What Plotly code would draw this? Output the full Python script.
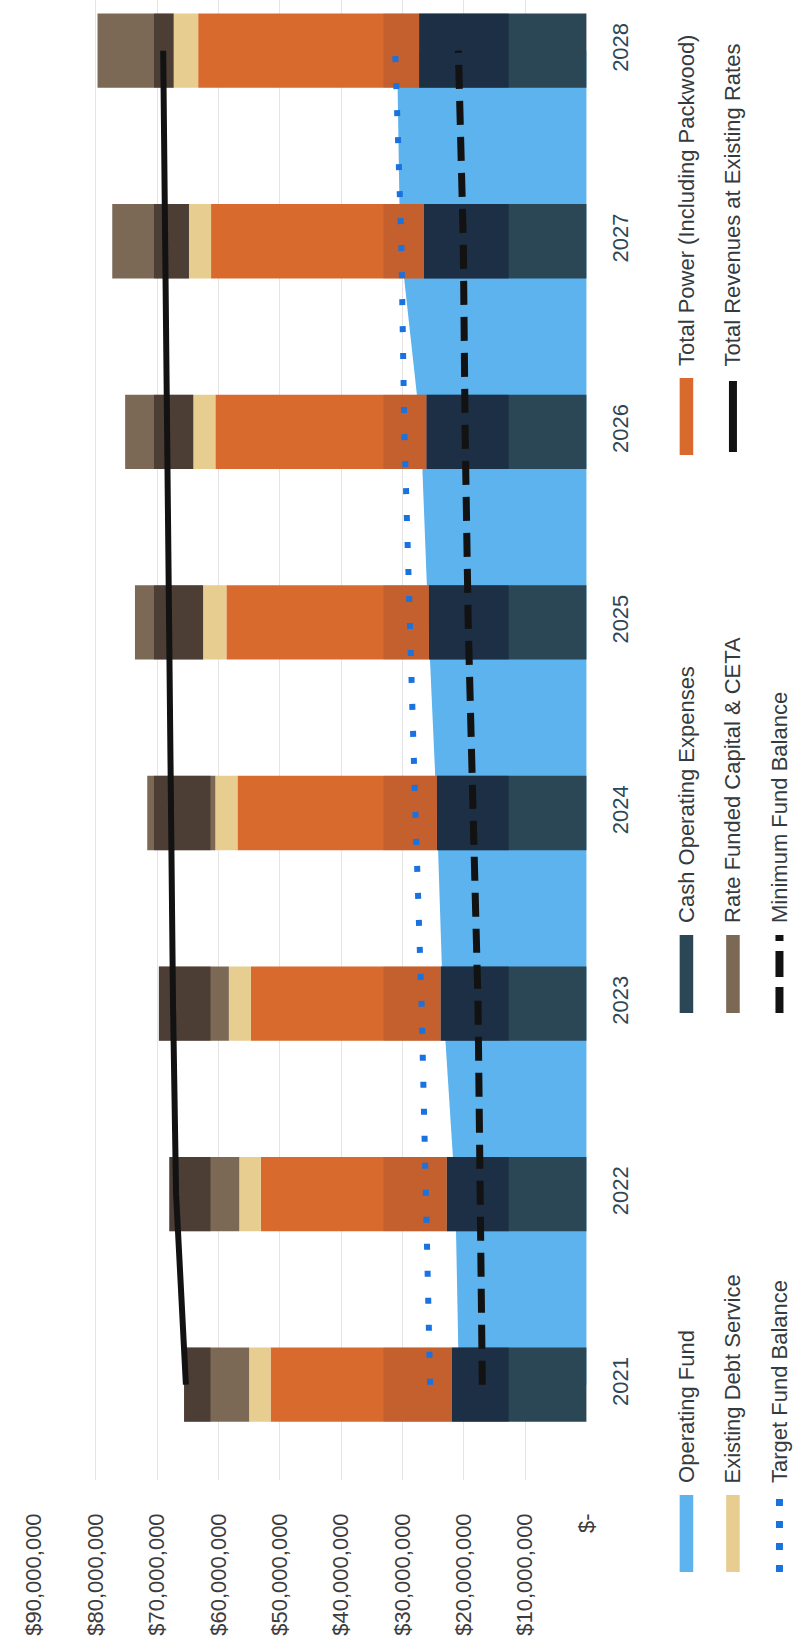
import plotly.graph_objects as go

# ---- data (US dollars) ----
years = [2021, 2022, 2023, 2024, 2025, 2026, 2027, 2028]
cash_operating_expenses = [22.0e6, 22.8e6, 23.8e6, 24.4e6, 25.7e6, 26.1e6, 26.5e6, 27.3e6]
total_power = [29.5e6, 30.3e6, 30.9e6, 32.5e6, 33.0e6, 34.4e6, 34.7e6, 36.0e6]
existing_debt_service = [3.5e6, 3.5e6, 3.6e6, 3.6e6, 3.8e6, 3.6e6, 3.6e6, 4.0e6]
rate_funded_capital = [10.6e6, 11.4e6, 11.4e6, 11.1e6, 11.1e6, 11.1e6, 12.5e6, 12.4e6]
operating_fund = [20.8e6, 21.4e6, 23.4e6, 24.4e6, 25.8e6, 27.0e6, 30.4e6, 30.9e6]
target_fund_balance = [25.5e6, 26.2e6, 26.9e6, 27.9e6, 28.8e6, 29.7e6, 30.2e6, 31.2e6]
minimum_fund_balance = [17.0e6, 17.3e6, 17.7e6, 18.5e6, 19.3e6, 19.8e6, 20.1e6, 20.9e6]
total_revenues = [65.3e6, 66.9e6, 67.4e6, 67.7e6, 68.2e6, 68.5e6, 68.8e6, 69.0e6]

value_ticks = [0, 10e6, 20e6, 30e6, 40e6, 50e6, 60e6, 70e6, 80e6, 90e6]
value_tick_text = ["$-", "$10,000,000", "$20,000,000", "$30,000,000", "$40,000,000",
                   "$50,000,000", "$60,000,000", "$70,000,000", "$80,000,000", "$90,000,000"]

# value bands in which the printed bars come out darker
SHADE_LOW = (12.7e6, 33.1e6)
SHADE_HIGH = (61.3e6, 70.5e6)

# ---- styling ----
W, H = 806, 1650
FONT = "Liberation Sans, Arial, sans-serif"
TEXT = "#34474f"
C_FUND = "#5cb3ee"
C_OPEX = "#2b4654"
C_POWER = "#d96a2d"
C_DEBT = "#e7cd8f"
C_CAP = "#7b6855"
C_TARGET = "#1a72df"
C_BLACK = "#121212"

VALUE_RANGE = [90e6, 0]
YEAR_RANGE = [2020.5, 2028.266]
BAR_W = 0.39


def px_x(x):
    return x / W


def px_y(y):
    return 1 - y / H


x_domain = [px_x(22), px_x(592)]
y_domain = [px_y(1480), 1.0]

fig = go.Figure()

# operating fund area sits on the base axes so the bars draw over it
fig.add_trace(go.Scatter(
    x=operating_fund, y=years, mode="lines", fill="tozerox",
    fillcolor=C_FUND, line=dict(width=0, color=C_FUND),
    name="Operating Fund", xaxis="x", yaxis="y", hoverinfo="skip"))

# stacked cost bars (bases accumulated explicitly)
bar_series = [
    ("Cash Operating Expenses", cash_operating_expenses, C_OPEX),
    ("Total Power (Including Packwood)", total_power, C_POWER),
    ("Existing Debt Service", existing_debt_service, C_DEBT),
    ("Rate Funded Capital & CETA", rate_funded_capital, C_CAP),
]
bases = [0.0] * len(years)
segments = {}
for name, vals, col in bar_series:
    segments[name] = (list(bases), [b + v for b, v in zip(bases, vals)])
    fig.add_trace(go.Bar(
        x=vals, y=years, base=list(bases), orientation="h", name=name, width=BAR_W,
        marker=dict(color=col, line=dict(width=0)),
        xaxis="x2", yaxis="y2"))
    bases = [b + v for b, v in zip(bases, vals)]


def add_shade(series, band, colour):
    lo_list, hi_list = segments[series]
    starts, lengths = [], []
    for lo, hi in zip(lo_list, hi_list):
        s = max(lo, band[0])
        e = min(hi, band[1])
        starts.append(s)
        lengths.append(max(e - s, 0))
    fig.add_trace(go.Bar(
        x=lengths, y=years, base=starts, orientation="h", width=BAR_W,
        marker=dict(color=colour, line=dict(width=0)), showlegend=False,
        hoverinfo="skip", xaxis="x2", yaxis="y2"))


add_shade("Cash Operating Expenses", SHADE_LOW, "rgba(10,20,50,0.45)")
add_shade("Total Power (Including Packwood)", SHADE_LOW, "rgba(150,70,50,0.30)")
add_shade("Rate Funded Capital & CETA", SHADE_HIGH, "rgba(20,10,15,0.45)")

fig.add_trace(go.Scatter(
    x=minimum_fund_balance, y=years, mode="lines", name="Minimum Fund Balance",
    line=dict(color=C_BLACK, width=7, dash="24px,12px"), xaxis="x2", yaxis="y2"))
fig.add_trace(go.Scatter(
    x=target_fund_balance, y=years, mode="lines", name="Target Fund Balance",
    line=dict(color=C_TARGET, width=6, dash="6px,21px"), xaxis="x2", yaxis="y2"))
fig.add_trace(go.Scatter(
    x=total_revenues, y=years, mode="lines", name="Total Revenues at Existing Rates",
    line=dict(color=C_BLACK, width=6), xaxis="x2", yaxis="y2"))

fig.update_layout(
    width=W, height=H,
    margin=dict(l=0, r=0, t=0, b=0),
    paper_bgcolor="white", plot_bgcolor="white",
    barmode="overlay", showlegend=False,
    font=dict(family=FONT, size=22, color=TEXT),
    xaxis=dict(domain=x_domain, range=VALUE_RANGE, tickvals=value_ticks,
               ticktext=value_tick_text, tickangle=-90, showgrid=True,
               gridcolor="#e4e4e4", gridwidth=1, zeroline=False, showline=False,
               ticks="", ticklabelstandoff=28,
               tickfont=dict(family=FONT, size=22, color="#3c3c3c")),
    yaxis=dict(domain=y_domain, range=YEAR_RANGE, tickvals=years,
               ticktext=[str(y) for y in years], side="right", tickangle=-90,
               showgrid=False, zeroline=False, showline=False, ticks="",
               ticklabelstandoff=18,
               tickfont=dict(family=FONT, size=22, color="#2c4856")),
    xaxis2=dict(overlaying="x", range=VALUE_RANGE, visible=False),
    yaxis2=dict(overlaying="y", range=YEAR_RANGE, visible=False),
)

# ---- legend, laid out sideways to follow the rotated page ----
col_x = [695, 743, 791]
legend_rows = [
    # (column, swatch top, swatch bottom, label, kind, colour)
    (0, 1495, 1572, "Operating Fund", "box", C_FUND),
    (1, 1495, 1572, "Existing Debt Service", "box", C_DEBT),
    (2, 1495, 1572, "Target Fund Balance", "dot", C_TARGET),
    (0, 935, 1013, "Cash Operating Expenses", "box", C_OPEX),
    (1, 935, 1013, "Rate Funded Capital & CETA", "box", C_CAP),
    (2, 935, 1013, "Minimum Fund Balance", "dash", C_BLACK),
    (0, 378, 455, "Total Power (Including Packwood)", "box", C_POWER),
    (1, 378, 455, "Total Revenues at Existing Rates", "line", C_BLACK),
]
for col, top, bottom, label, kind, colour in legend_rows:
    cx = col_x[col]
    if kind == "box":
        fig.add_shape(type="rect", xref="paper", yref="paper",
                      x0=px_x(cx - 7), x1=px_x(cx + 7), y0=px_y(bottom), y1=px_y(top),
                      fillcolor=colour, line=dict(width=0))
    elif kind == "line":
        fig.add_shape(type="line", xref="paper", yref="paper",
                      x0=px_x(cx), x1=px_x(cx), y0=px_y(bottom - 3), y1=px_y(top + 3),
                      line=dict(color=colour, width=8))
    elif kind == "dash":
        fig.add_shape(type="line", xref="paper", yref="paper",
                      x0=px_x(cx), x1=px_x(cx), y0=px_y(bottom), y1=px_y(top),
                      line=dict(color=colour, width=8, dash="26px,10px"))
    else:
        fig.add_shape(type="line", xref="paper", yref="paper",
                      x0=px_x(cx), x1=px_x(cx), y0=px_y(bottom), y1=px_y(top),
                      line=dict(color=colour, width=7, dash="7px,15px"))
    fig.add_annotation(text=label, xref="paper", yref="paper",
                       x=px_x(cx), y=px_y(top - 10), xanchor="center", yanchor="bottom",
                       textangle=-90, showarrow=False,
                       font=dict(family=FONT, size=22, color="#333b40"))

fig.write_html("out.html")
